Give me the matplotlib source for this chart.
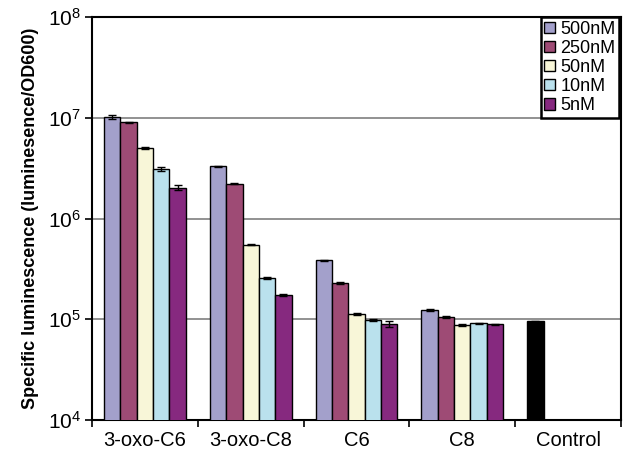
import matplotlib
matplotlib.use("Agg")
import matplotlib.pyplot as plt
import numpy as np

plt.rcParams['font.family'] = ['Liberation Sans', 'DejaVu Sans']
plt.rcParams['mathtext.fontset'] = 'custom'
plt.rcParams['mathtext.rm'] = 'Liberation Sans'

categories = ['3-oxo-C6', '3-oxo-C8', 'C6', 'C8']
series = ['500nM', '250nM', '50nM', '10nM', '5nM']
values = {
    '500nM': [1.02e7, 3.3e6, 3.85e5, 1.23e5],
    '250nM': [9.0e6, 2.22e6, 2.27e5, 1.05e5],
    '50nM':  [5.0e6, 5.5e5, 1.13e5, 8.8e4],
    '10nM':  [3.1e6, 2.58e5, 9.8e4, 9.1e4],
    '5nM':   [2.02e6, 1.73e5, 9.0e4, 8.9e4],
}
errors = {
    '500nM': [4.5e5, 5e4, 6e3, 2e3],
    '250nM': [1.2e5, 3e4, 5e3, 1.5e3],
    '50nM':  [1.2e5, 1e4, 2e3, 1.5e3],
    '10nM':  [1.5e5, 6e3, 1.5e3, 1.5e3],
    '5nM':   [1.2e5, 4e3, 7e3, 1.5e3],
}
control_label = 'Control'
control_value = 9.5e4
control_error = 1.5e3
colors = ['#A3A0CB', '#9E4B75', '#F8F6D8', '#BAE1ED', '#86297F']

fig = plt.figure(figsize=(6.23, 4.55), dpi=100)
ax = fig.add_axes([92 / 623, 35 / 455, 529 / 623, 403 / 455])

width = 0.155
x = np.arange(len(categories))
for k, (name, col) in enumerate(zip(series, colors)):
    ax.bar(x + (k - 2) * width, values[name], width, color=col,
           edgecolor='black', linewidth=1.0, label=name, zorder=3,
           yerr=errors[name], capsize=3,
           error_kw=dict(ecolor='black', elinewidth=1, capthick=1, zorder=4))

ax.bar(len(categories) - 2 * width, control_value, width, color='black',
       edgecolor='black', linewidth=1.0, zorder=3, yerr=control_error,
       capsize=3, error_kw=dict(ecolor='black', elinewidth=1, capthick=1))

ax.set_yscale('log')
ax.set_ylim(1e4, 1e8)
ax.set_xlim(-0.5, len(categories) + 0.5)

ax.set_yticks([1e4, 1e5, 1e6, 1e7, 1e8])
ax.set_yticklabels([r'$\mathregular{10^{%d}}$' % p for p in range(4, 9)],
                   fontsize=15)
ax.yaxis.set_minor_locator(matplotlib.ticker.NullLocator())
ax.yaxis.grid(True, color='#7f7f7f', linewidth=1.2, zorder=0)
ax.set_axisbelow(True)

all_labels = categories + [control_label]
ax.set_xticks(np.arange(len(all_labels) + 1) - 0.5)
ax.set_xticklabels([])
ax.set_xticks(np.arange(len(all_labels)), minor=True)
ax.set_xticklabels(all_labels, minor=True, fontsize=14.5)
ax.tick_params(axis='x', which='minor', length=0, pad=8)
ax.tick_params(axis='x', which='major', length=5, width=1.2, direction='out')
ax.tick_params(axis='y', length=5, width=1.2, direction='out', pad=3)

for s in ax.spines.values():
    s.set_linewidth(1.5)
    s.set_color('black')

ax.set_ylabel('Specific luminescence (luminesence/OD600)', fontsize=13,
              fontweight='bold', labelpad=6)

leg = ax.legend(loc='upper right', bbox_to_anchor=(0.997, 1.0), fontsize=13,
                frameon=True, fancybox=False, borderaxespad=0,
                handlelength=0.6, handleheight=0.6, handletextpad=0.3,
                labelspacing=0.12, borderpad=0.2)
leg.get_frame().set_edgecolor('black')
leg.get_frame().set_linewidth(1.8)
leg.get_frame().set_alpha(1)

fig.savefig('out.png', dpi=100)
